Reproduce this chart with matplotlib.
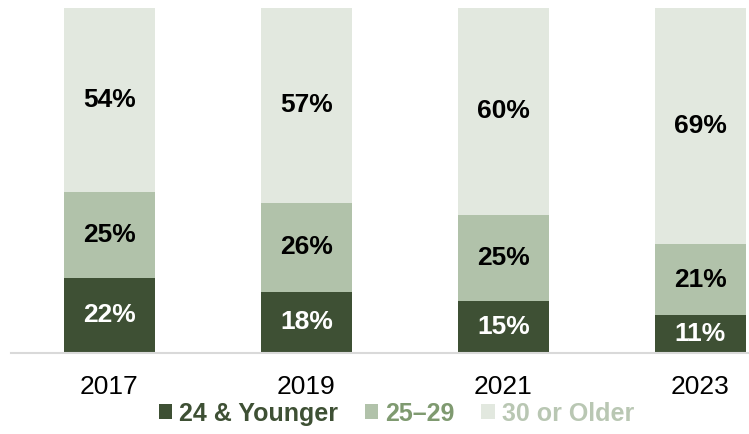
import matplotlib.pyplot as plt
from matplotlib.patches import Patch

plt.rcParams['font.family'] = ['Liberation Sans', 'DejaVu Sans']

years = ['2017', '2019', '2021', '2023']
young = [22, 18, 15, 11]
mid = [25, 26, 25, 21]
older = [54, 57, 60, 69]

series_names = ['24 & Younger', '25\u201329', '30 or Older']
bar_colors = ['#3e5034', '#b1c2aa', '#e2e8df']
text_colors = ['#3e5034', '#7f9a70', '#b9c7b3']
label_colors = ['white', 'black', 'black']

fig = plt.figure(figsize=(7.49, 4.34), dpi=100)
ax = fig.add_axes([11 / 749, 1 - 353 / 434, 788 / 749, 345 / 434])

# bars are drawn as share of their total (rounded labels don't add to 100)
totals = [a + b + c for a, b, c in zip(young, mid, older)]
x = range(len(years))
bottom = [0] * len(years)
for vals, col, lc in zip([young, mid, older], bar_colors, label_colors):
    h = [v / t * 100 for v, t in zip(vals, totals)]
    ax.bar(x, h, bottom=bottom, width=0.46, color=col, zorder=2)
    for i, v in enumerate(vals):
        ax.text(i, bottom[i] + h[i] / 2, f'{v}%', ha='center', va='center',
                fontsize=19, fontweight='bold', color=lc, zorder=3)
    bottom = [b + v for b, v in zip(bottom, h)]

ax.set_xlim(-0.5, 3.5)
ax.set_ylim(0, 100)
for s in ['top', 'right', 'left']:
    ax.spines[s].set_visible(False)
ax.spines['bottom'].set_color('#d9d9d9')
ax.spines['bottom'].set_linewidth(1.5)
ax.set_yticks([])
ax.set_xticks(list(x))
ax.set_xticklabels(years, fontsize=19)
ax.tick_params(axis='x', length=0, pad=16)

handles = [Patch(facecolor=c) for c in bar_colors]
leg = fig.legend(handles, series_names, loc='center', bbox_to_anchor=(0.529, 0.047),
                 ncol=3, frameon=False, handlelength=0.55, handleheight=0.55,
                 handletextpad=0.28, columnspacing=1.05,
                 prop={'size': 18, 'weight': 'bold'}, labelcolor=text_colors)

fig.savefig('out.png', dpi=100)
